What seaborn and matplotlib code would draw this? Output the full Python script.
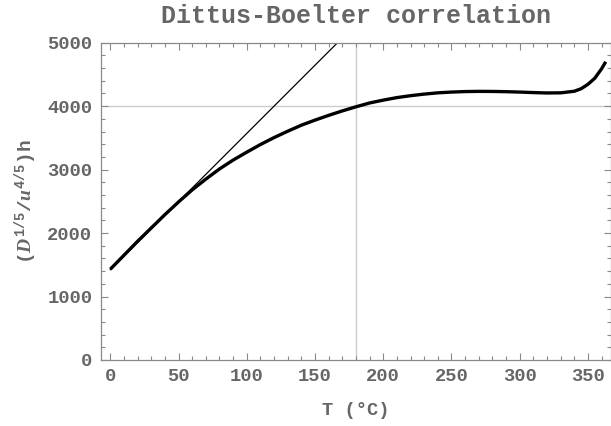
import matplotlib
matplotlib.use("Agg")
import matplotlib.pyplot as plt
import seaborn as sns
import pandas as pd
from matplotlib.ticker import MultipleLocator

# ---- data ----
temps = [0, 10, 20, 30, 40, 50, 60, 70, 80, 90, 100, 110, 120, 130, 140, 150,
         160, 170, 180, 190, 200, 210, 220, 230, 240, 250, 260, 270, 280, 290,
         300, 310, 320, 330, 340, 345, 350, 355, 360, 363]
h_scaled = [1430, 1650, 1870, 2080, 2290, 2490, 2680, 2850, 3010, 3150, 3275,
            3395, 3505, 3605, 3700, 3780, 3855, 3925, 3990, 4050, 4095, 4135,
            4165, 4190, 4210, 4222, 4230, 4233, 4232, 4228, 4222, 4214, 4208,
            4210, 4235, 4275, 4345, 4440, 4590, 4700]
tangent_T = [0, 170]
tangent_h = [1420, 5075]
x_ticks = [0, 50, 100, 150, 200, 250, 300, 350]
y_ticks = [0, 1000, 2000, 3000, 4000, 5000]
grid_T = 180
grid_h = 4000

curve = pd.DataFrame({"T": temps, "h": h_scaled})
tangent = pd.DataFrame({"T": tangent_T, "h": tangent_h})

sns.set_style("ticks")
plt.rcParams["font.family"] = ["Liberation Mono", "DejaVu Sans"]
plt.rcParams["mathtext.fontset"] = "custom"
plt.rcParams["mathtext.rm"] = "Liberation Mono:bold"
plt.rcParams["mathtext.it"] = "Liberation Serif:bold:italic"

grey = "#666666"
spine_grey = "#8a8a8a"

fig = plt.figure(figsize=(6.11, 4.26), dpi=100)
ax = fig.add_axes([100.7 / 611, 66 / 426, 509.8 / 611, 317.3 / 426])

ax.axvline(grid_T, color="#cccccc", lw=1.0, zorder=0)
ax.axhline(grid_h, color="#cccccc", lw=1.0, zorder=0)

sns.lineplot(data=tangent, x="T", y="h", ax=ax, color="black", lw=0.9,
             sort=False, estimator=None)
sns.lineplot(data=curve, x="T", y="h", ax=ax, color="black", lw=2.4,
             sort=False, estimator=None, solid_capstyle="butt")

ax.set_xlim(-7, 366.5)
ax.set_ylim(0, 5000)
ax.set_xticks(x_ticks)
ax.set_yticks(y_ticks)
ax.xaxis.set_minor_locator(MultipleLocator(10))
ax.yaxis.set_minor_locator(MultipleLocator(200))

for s in ax.spines.values():
    s.set_visible(True)
    s.set_color(spine_grey)
    s.set_linewidth(0.9)

ax.tick_params(which="both", direction="in", top=True, right=True,
               color=spine_grey, width=0.8)
ax.tick_params(which="major", length=5)
ax.tick_params(which="minor", length=3)
ax.tick_params(axis="both", labelsize=13.5, labelcolor=grey, pad=6)
for lab in ax.get_xticklabels() + ax.get_yticklabels():
    lab.set_fontweight("bold")

ax.set_xlabel("T (°C)", fontsize=13.5, color=grey, fontweight="bold", labelpad=12)
ax.set_ylabel(r"$(\mathit{D}^{1/5}/\mathit{u}^{4/5})$h", fontsize=14,
              color=grey, fontweight="bold", labelpad=5)
ax.set_title("Dittus-Boelter correlation", fontsize=18, color=grey,
             fontweight="bold", pad=14)

fig.savefig("out.png", dpi=100)
